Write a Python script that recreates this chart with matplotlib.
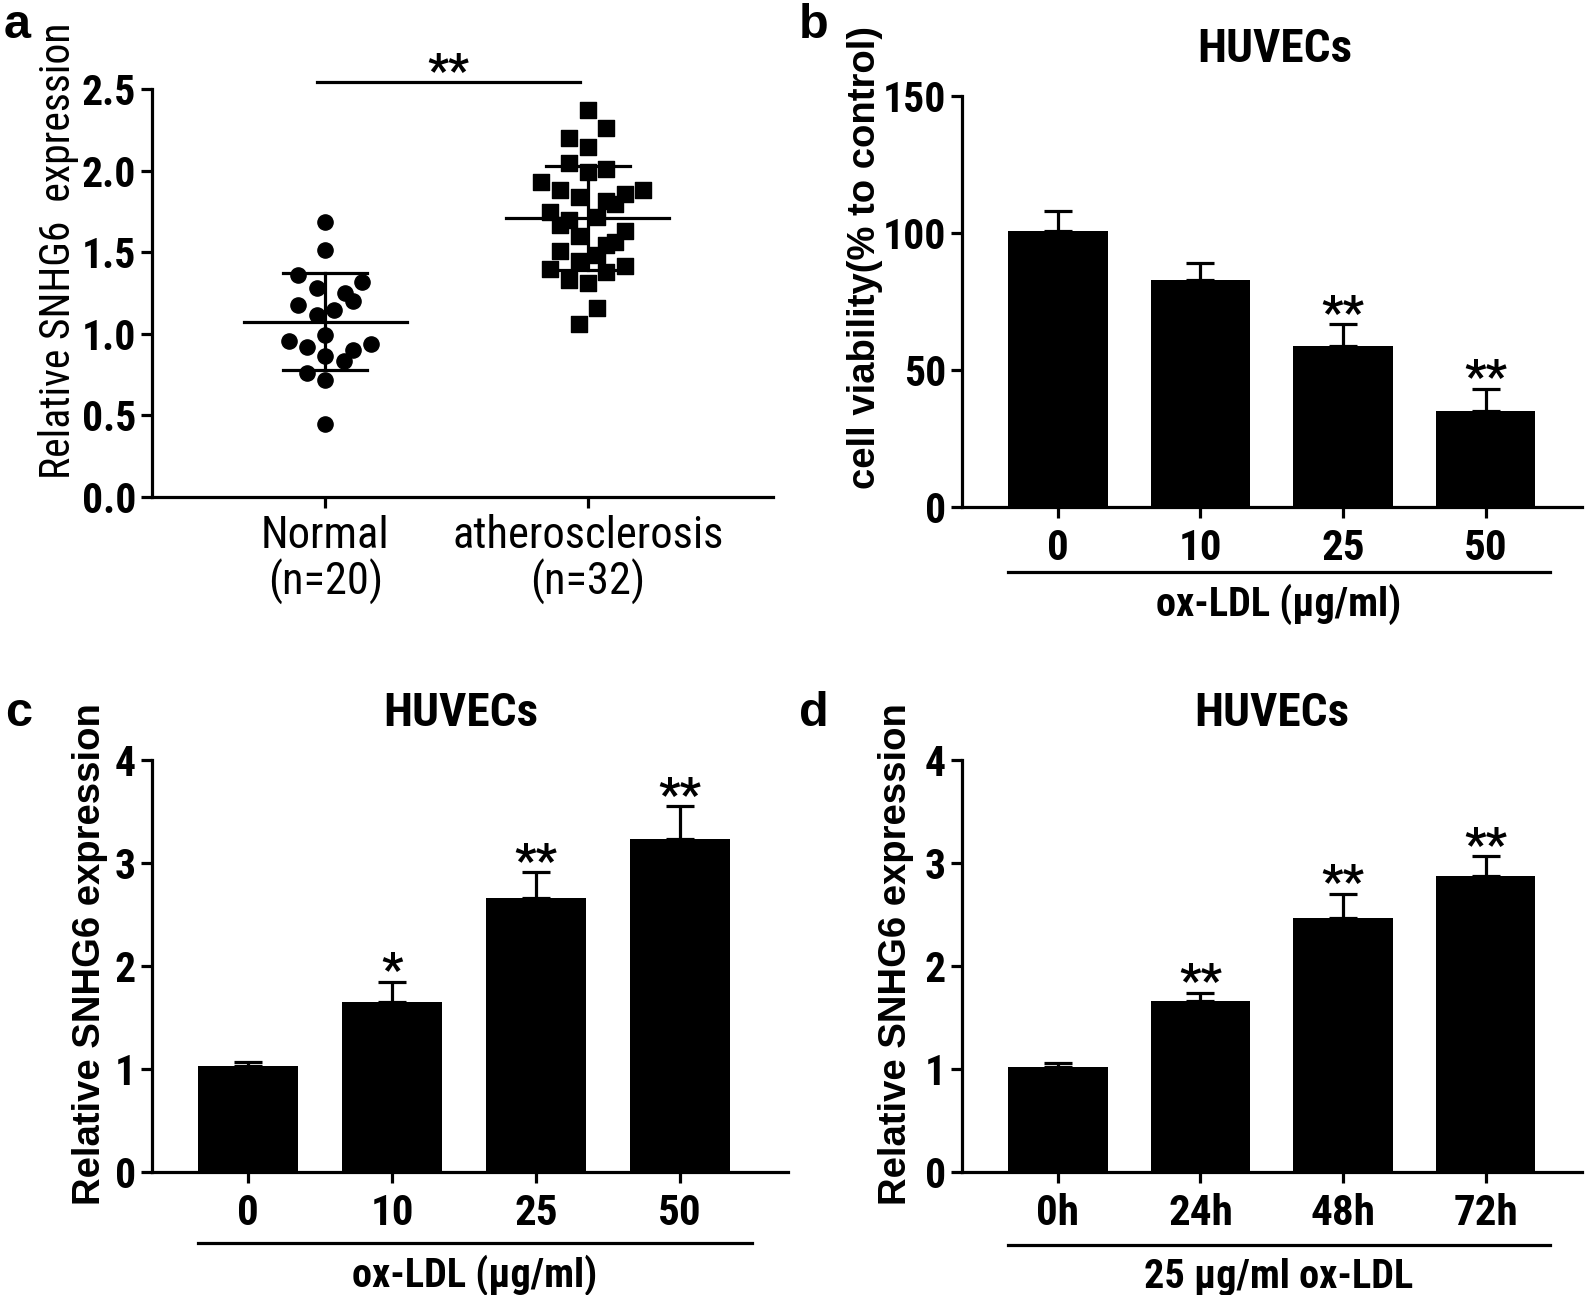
import matplotlib
matplotlib.use("Agg")
import matplotlib.pyplot as plt
import matplotlib.transforms as mtransforms
import numpy as np

# =========================
# DATA
# =========================

# panel a : scatter, y values and horizontal jitter (category units)
normal_y = [1.686, 1.514, 1.36, 1.316, 1.283, 1.251, 1.203, 1.179, 1.143, 1.118,
            0.99, 0.954, 0.937, 0.92, 0.90, 0.865, 0.833, 0.761, 0.72, 0.449]
normal_dx = [0, 0, -0.105, 0.14, -0.033, 0.074, 0.107, -0.105, 0.035, -0.033,
             0, -0.14, 0.175, -0.07, 0.107, 0, 0.07, -0.07, 0, 0]
athero_y = [2.374, 2.258, 2.20, 2.145, 2.048, 2.007, 1.99, 1.928, 1.884, 1.879,
            1.855, 1.838, 1.814, 1.795, 1.746, 1.715, 1.698, 1.669, 1.63, 1.60,
            1.565, 1.541, 1.51, 1.48, 1.444, 1.415, 1.396, 1.377, 1.331, 1.312,
            1.155, 1.058]
athero_dx = [0, 0.068, -0.072, 0, -0.072, 0.068, 0, -0.179, 0.208, -0.107,
             0.14, -0.035, 0.07, 0.105, -0.144, 0.035, -0.072, -0.107, 0.14, -0.035,
             0.105, 0.07, -0.107, 0.035, -0.035, 0.14, -0.144, 0.07, -0.072, 0,
             0.035, -0.035]
a_groups = ["Normal\n(n=20)", "atherosclerosis\n(n=32)"]
a_mean = [1.075, 1.708]
a_sd = [0.295, 0.318]

# panel b
b_labels = ["0", "10", "25", "50"]
b_values = [100.8, 82.8, 58.9, 35.0]
b_err = [7.2, 6.4, 7.8, 8.1]
b_stars = ["", "", "**", "**"]

# panel c
c_labels = ["0", "10", "25", "50"]
c_values = [1.025, 1.648, 2.665, 3.23]
c_err = [0.045, 0.20, 0.245, 0.32]
c_stars = ["", "*", "**", "**"]

# panel d
d_labels = ["0h", "24h", "48h", "72h"]
d_values = [1.017, 1.66, 2.47, 2.87]
d_err = [0.045, 0.08, 0.23, 0.194]
d_stars = ["", "**", "**", "**"]

# =========================
# STYLE
# =========================

NARROW = ["Roboto Condensed", "Liberation Sans Narrow", "Liberation Sans", "DejaVu Sans"]
WIDE = ["Liberation Sans", "DejaVu Sans"]
LW = 2.3

plt.rcParams["font.family"] = NARROW


def style_axes(ax):
    for side in ["top", "right"]:
        ax.spines[side].set_visible(False)
    for side in ["left", "bottom"]:
        ax.spines[side].set_linewidth(LW)
    ax.tick_params(width=LW, length=8, direction="out")
    ax.tick_params(axis="x", pad=7)
    for lab in ax.get_yticklabels():
        lab.set_fontweight("bold")
        lab.set_fontsize(30)


def bar_panel(ax, labels, values, err, stars, ymax, yticks, ylabel, group, gline, gy, ty, tx):
    x = np.arange(len(values))
    ax.bar(x, values, width=0.7, color="black", zorder=2)
    ax.errorbar(x, values, yerr=[np.zeros(len(err)), err], fmt="none",
                ecolor="black", elinewidth=LW, capsize=10, capthick=LW, zorder=1)
    for xi, v, e, s in zip(x, values, err, stars):
        if s:
            ax.text(xi, v+e-ymax*0.03, s, ha="center", va="bottom",
                    fontsize=34, fontweight="bold")
    ax.set_ylim(0, ymax)
    ax.set_yticks(yticks)
    ax.set_xticks(x)
    ax.set_xticklabels(labels, fontsize=31, fontweight="bold")
    style_axes(ax)
    ax.set_ylabel(ylabel, family=WIDE, fontsize=27.5, fontweight="bold")
    ax.text(tx, 1.115, "HUVECs", transform=ax.transAxes, ha="center", va="center",
            fontsize=34, fontweight="bold")
    trans = mtransforms.blended_transform_factory(ax.transData, ax.transAxes)
    ax.plot(gline, [gy, gy], color="black", lw=LW, transform=trans, clip_on=False)
    ax.text(np.mean(gline), ty, group, transform=trans, ha="center", va="center",
            fontsize=29, fontweight="bold")


fig = plt.figure(figsize=(15.85, 12.95), dpi=100)

# =========================
# PANEL A
# =========================

ax = fig.add_axes([0.0959, 0.6162, 0.3918, 0.3151])
ax.scatter(0+np.array(normal_dx), normal_y, s=120, marker="o", color="black", zorder=3)
ax.scatter(1+np.array(athero_dx), athero_y, s=120, marker="s", color="black", zorder=3)
for i in range(2):
    ax.plot([i-0.31, i+0.31], [a_mean[i], a_mean[i]], color="black", lw=LW, zorder=2)
    ax.plot([i, i], [a_mean[i]-a_sd[i], a_mean[i]+a_sd[i]], color="black", lw=LW, zorder=2)
    for yy in [a_mean[i]-a_sd[i], a_mean[i]+a_sd[i]]:
        ax.plot([i-0.16, i+0.16], [yy, yy], color="black", lw=LW, zorder=2)
ax.plot([-0.03, 0.97], [2.54, 2.54], color="black", lw=LW, clip_on=False)
ax.text(0.47, 2.465, "**", ha="center", va="bottom", fontsize=33, fontweight="bold")
ax.set_xlim(-0.66, 1.705)
ax.set_ylim(0, 2.5)
ax.set_yticks([0, 0.5, 1.0, 1.5, 2.0, 2.5])
ax.set_yticklabels(["0.0", "0.5", "1.0", "1.5", "2.0", "2.5"])
ax.set_xticks([0, 1])
ax.set_xticklabels(a_groups, fontsize=32, linespacing=1.05)
style_axes(ax)
ax.tick_params(axis="x", pad=5)
ax.set_ylabel("Relative SNHG6  expression", fontsize=30)
ax.yaxis.set_label_coords(-0.118, 0.603)

# =========================
# PANELS B C D
# =========================

ax = fig.add_axes([0.6069, 0.6085, 0.3912, 0.3174])
bar_panel(ax, b_labels, b_values, b_err, b_stars, 150, [0, 50, 100, 150],
          "cell viability(% to control)", "ox-LDL (µg/ml)", [-0.35, 3.45], -0.158, -0.237, 0.505)
ax.set_xlim(-0.674, 3.677)
ax.yaxis.set_label_coords(-0.127, 0.608)

ax = fig.add_axes([0.0959, 0.095, 0.4013, 0.3181])
bar_panel(ax, c_labels, c_values, c_err, c_stars, 4, [0, 1, 2, 3, 4],
          "Relative SNHG6 expression", "ox-LDL (µg/ml)", [-0.35, 3.5], -0.172, -0.25, 0.486)
ax.set_xlim(-0.667, 3.75)
ax.yaxis.set_label_coords(-0.069, 0.53)

ax = fig.add_axes([0.6069, 0.095, 0.3912, 0.3181])
bar_panel(ax, d_labels, d_values, d_err, d_stars, 4, [0, 1, 2, 3, 4],
          "Relative SNHG6 expression", "25 µg/ml ox-LDL", [-0.35, 3.45], -0.177, -0.255, 0.5)
ax.set_xlim(-0.674, 3.677)
ax.yaxis.set_label_coords(-0.077, 0.53)

# panel letters
for lab, x, y in [("a", 0.002, 0.9703), ("b", 0.504, 0.9703), ("c", 0.003, 0.4394), ("d", 0.504, 0.4394)]:
    fig.text(x, y, lab, family=WIDE, fontsize=35, fontweight="bold", va="baseline")

fig.savefig("out.png", dpi=100)
